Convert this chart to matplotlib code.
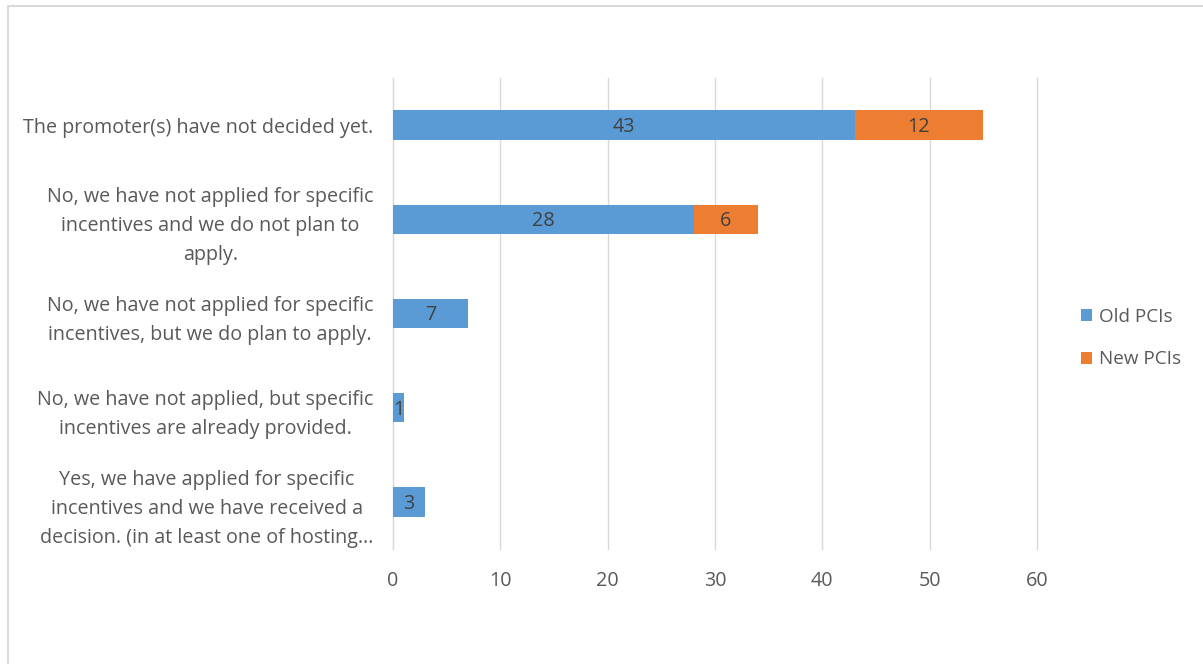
import matplotlib
matplotlib.use("Agg")
import matplotlib.pyplot as plt
from matplotlib.patches import Rectangle

categories = [
    "The promoter(s) have not decided yet.",
    "No, we have not applied for specific\nincentives and we do not plan to\napply.",
    "No, we have not applied for specific\nincentives, but we do plan to apply.",
    "No, we have not applied, but specific\nincentives are already provided.",
    "Yes, we have applied for specific\nincentives and we have received a\ndecision. (in at least one of hosting\u2026",
]
old_pcis = [43, 28, 7, 1, 3]
new_pcis = [12, 6, 0, 0, 0]
series_names = ["Old PCIs", "New PCIs"]
xticks = [0, 10, 20, 30, 40, 50, 60]

BLUE = "#5B9BD5"
ORANGE = "#ED7D31"
TXT = "#595959"
FS = 14.2
plt.rcParams['font.family'] = ['Open Sans', 'DejaVu Sans']

fig = plt.figure(figsize=(12.03, 6.64), dpi=100)
ax = fig.add_axes([393/1203, 1-549/664, (1037-393)/1203, (549-78)/664])

n = len(categories)
ypos = list(range(n))
bh = 0.31
ax.barh(ypos, old_pcis, height=bh, color=BLUE, label=series_names[0], zorder=3)
ax.barh(ypos, new_pcis, left=old_pcis, height=bh, color=ORANGE, label=series_names[1], zorder=3)

for y, o, nw in zip(ypos, old_pcis, new_pcis):
    if o:
        ax.text(o/2, y + 0.02, str(o), ha='center', va='center', fontsize=FS, color="#404040", zorder=4)
    if nw:
        ax.text(o + nw/2, y + 0.02, str(nw), ha='center', va='center', fontsize=FS, color="#404040", zorder=4)

ax.set_ylim(n-0.5, -0.5)
ax.set_xlim(0, 60)
ax.set_xticks(xticks)
ax.set_xticklabels([str(t) for t in xticks], fontsize=FS, color=TXT)
ax.set_yticks(ypos)
ax.set_yticklabels(categories, fontsize=FS, color=TXT, ma='center', linespacing=1.6)
ax.tick_params(axis='both', length=0)
ax.tick_params(axis='y', pad=14)
ax.tick_params(axis='x', pad=16)
ax.grid(axis='x', color="#D9D9D9", linewidth=1, zorder=0)
for gl in ax.get_xgridlines():
    gl.set_clip_on(False)
for s in ['top', 'right', 'bottom']:
    ax.spines[s].set_visible(False)
ax.spines['left'].set_color("#D9D9D9")

leg = fig.legend(loc='center left', bbox_to_anchor=(1064/1203, 1-338/664), frameon=False,
                 fontsize=13.6, labelcolor=TXT, handlelength=0.6, handleheight=0.6,
                 handletextpad=0.35, labelspacing=1.3)

# figure border (top and left visible)
fig.patches.append(Rectangle((8/1203, -0.05), 1, 1.05-6/664, transform=fig.transFigure,
                             fill=False, edgecolor="#D9D9D9", linewidth=1.5))

fig.savefig("out.png", dpi=100)
